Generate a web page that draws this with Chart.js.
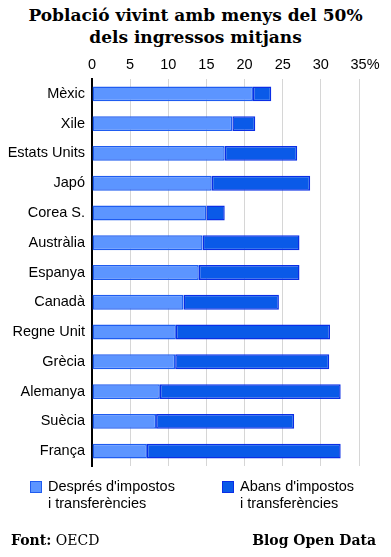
<!DOCTYPE html>
<html>
<head>
<meta charset="utf-8">
<script src="https://cdn.jsdelivr.net/npm/chart.js@4/dist/chart.umd.min.js"></script>
<style>
  html, body { margin: 0; padding: 0; background: #fff; }
  #wrap { position: relative; width: 391px; height: 557px; overflow: hidden; }
  #c { position: absolute; left: 0; top: 0; }
  .title { position: absolute; left: 0; width: 391px; text-align: center; font-family: "DejaVu Serif", serif; font-weight: bold; font-size: 17px; color: #000; line-height: 22px; top: 4px; }
  .leg { position: absolute; font-family: "Liberation Sans", Arial, sans-serif; font-size: 14.5px; line-height: 17px; color: #000; }
  .sw { position: absolute; width: 12px; height: 12px; box-sizing: border-box; }
  .foot { position: absolute; font-family: "DejaVu Serif", serif; font-size: 14px; color: #000; top: 532px; }
</style>
</head>
<body>
<div id="wrap">
  <div class="title">Població vivint amb menys del 50%<br>dels ingressos mitjans</div>
  <canvas id="c" width="391" height="557"></canvas>
  <div class="sw" style="left:30px;top:481px;background:#5c95ff;border:1px solid #1f5cf0;"></div>
  <div class="leg" style="left:48px;top:478px;">Després d'impostos<br>i transferències</div>
  <div class="sw" style="left:222px;top:481px;background:#0a5ae8;border:1px solid #0a2ee6;"></div>
  <div class="leg" style="left:240px;top:478px;">Abans d'impostos<br>i transferències</div>
  <div class="foot" style="left:11px;"><b>Font:</b> OECD</div>
  <div class="foot" style="right:15px;font-weight:bold;">Blog Open Data</div>
</div>
<script>
const categories = ["Mèxic","Xile","Estats Units","Japó","Corea S.","Austràlia","Espanya","Canadà","Regne Unit","Grècia","Alemanya","Suècia","França"];
const afterTax  = [21.1, 18.4, 17.4, 15.7, 15.0, 14.5, 14.0, 12.0, 11.0, 10.9, 8.9, 8.4, 7.2];
const beforeTax = [23.5, 21.4, 26.9, 28.6, 17.4, 27.2, 27.2, 24.5, 31.2, 31.1, 32.6, 26.5, 32.6];
const tickLabels = ["0", "5", "10", "15", "20", "25", "30", "   35%"];

const ctx = document.getElementById('c');
new Chart(ctx, {
  type: 'bar',
  data: {
    labels: categories,
    datasets: [
      {
        label: "Després d'impostos i transferències",
        data: afterTax,
        backgroundColor: '#5c95ff',
        borderColor: '#1f5cf0',
        borderWidth: 1.5,
        borderSkipped: false,
        grouped: false,
        order: 1
      },
      {
        label: "Abans d'impostos i transferències",
        data: afterTax.map((a, i) => [a, beforeTax[i]]),
        backgroundColor: '#0a5ae8',
        borderColor: '#0a2ee6',
        borderWidth: 1.5,
        borderSkipped: false,
        grouped: false,
        order: 2
      }
    ]
  },
  options: {
    indexAxis: 'y',
    responsive: false,
    animation: false,
    layout: { padding: { top: 55, bottom: 91, left: 0, right: 32 } },
    datasets: { bar: { categoryPercentage: 1.0, barPercentage: 0.5 } },
    plugins: { legend: { display: false }, tooltip: { enabled: false }, title: { display: false } },
    scales: {
      x: {
        position: 'top',
        min: 0, max: 35,
        afterFit: s => { s.height = 24; },
        grid: { color: '#d6d6d6', lineWidth: 1, drawTicks: false },
        border: { display: false },
        ticks: {
          stepSize: 5,
          autoSkip: false,
          padding: 5,
          color: '#000',
          font: { family: 'Liberation Sans', size: 14.5 },
          maxRotation: 0,
          callback: (v, i) => tickLabels[i]
        }
      },
      y: {
        afterFit: s => { s.width = 92; },
        grid: { display: false, drawTicks: false },
        border: { color: '#000', width: 2 },
        ticks: { padding: 7, color: '#000', font: { family: 'Liberation Sans', size: 14.5 } }
      }
    }
  }
});
</script>
</body>
</html>
